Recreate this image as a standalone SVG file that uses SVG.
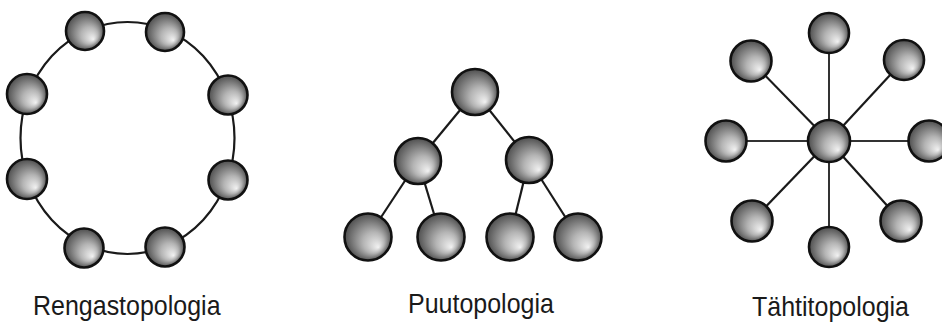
<svg xmlns="http://www.w3.org/2000/svg" width="942" height="325" viewBox="0 0 942 325">
  <defs>
    <radialGradient id="ball" cx="0.5" cy="0.5" r="0.5" fx="0.72" fy="0.72">
      <stop offset="0" stop-color="#f2f2f2"/>
      <stop offset="0.45" stop-color="#b4b4b4"/>
      <stop offset="1" stop-color="#4e4e4e"/>
    </radialGradient>
  </defs>
  <style>
    .node { fill: url(#ball); stroke: #111; stroke-width: 2.6; }
    .link { fill: none; stroke: #1a1a1a; stroke-width: 2.2; }
    .thin { fill: none; stroke: #333; stroke-width: 2; }
    .label { font-family: "Liberation Sans", Arial, sans-serif; font-size: 25px; fill: #1a1a1a; }
  </style>

  <!-- connectors -->
  <g id="connectors">
    <!-- ring -->
    <ellipse class="link" cx="127.5" cy="138" rx="107" ry="116"/>
    <!-- tree -->
    <line class="link" x1="475" y1="92" x2="418" y2="161"/>
    <line class="link" x1="475" y1="92" x2="529" y2="160"/>
    <line class="link" x1="418" y1="161" x2="368" y2="237"/>
    <line class="link" x1="418" y1="161" x2="441" y2="237"/>
    <line class="link" x1="529" y1="160" x2="510" y2="237"/>
    <line class="link" x1="529" y1="160" x2="578" y2="237"/>
    <!-- star -->
    <line class="thin" x1="829" y1="141" x2="829" y2="33"/>
    <line class="thin" x1="829" y1="141" x2="829" y2="247"/>
    <line class="thin" x1="829" y1="141" x2="726" y2="141"/>
    <line class="thin" x1="829" y1="141" x2="929" y2="141"/>
    <line class="link" x1="829" y1="141" x2="751" y2="61"/>
    <line class="link" x1="829" y1="141" x2="904" y2="60"/>
    <line class="link" x1="829" y1="141" x2="752" y2="221"/>
    <line class="link" x1="829" y1="141" x2="901" y2="221"/>
  </g>

  <!-- ring topology -->
  <g id="ring">
    <circle id="ring-1" class="node" cx="85" cy="31" r="19"/>
    <circle id="ring-2" class="node" cx="165" cy="32" r="19"/>
    <circle id="ring-3" class="node" cx="228" cy="95" r="19.5"/>
    <circle id="ring-4" class="node" cx="228" cy="180" r="19.5"/>
    <circle id="ring-5" class="node" cx="165" cy="247" r="19.5"/>
    <circle id="ring-6" class="node" cx="84" cy="248" r="19.5"/>
    <circle id="ring-7" class="node" cx="27" cy="179" r="20"/>
    <circle id="ring-8" class="node" cx="27" cy="94" r="20"/>
  </g>

  <!-- tree topology -->
  <g id="tree">
    <circle id="tree-root" class="node" cx="475" cy="92" r="23"/>
    <circle id="tree-a" class="node" cx="418" cy="161" r="23"/>
    <circle id="tree-b" class="node" cx="529" cy="160" r="23"/>
    <circle id="tree-a1" class="node" cx="368" cy="237" r="23.5"/>
    <circle id="tree-a2" class="node" cx="441" cy="237" r="23.5"/>
    <circle id="tree-b1" class="node" cx="510" cy="237" r="23.5"/>
    <circle id="tree-b2" class="node" cx="578" cy="237" r="23.5"/>
  </g>

  <!-- star topology -->
  <g id="star">
    <circle id="star-hub" class="node" cx="829" cy="141" r="21"/>
    <circle id="star-n" class="node" cx="829" cy="33" r="20"/>
    <circle id="star-ne" class="node" cx="904" cy="60" r="20"/>
    <circle id="star-e" class="node" cx="929" cy="141" r="20.5"/>
    <circle id="star-se" class="node" cx="901" cy="221" r="20.5"/>
    <circle id="star-s" class="node" cx="829" cy="247" r="20"/>
    <circle id="star-sw" class="node" cx="752" cy="221" r="20.5"/>
    <circle id="star-w" class="node" cx="726" cy="141" r="20.5"/>
    <circle id="star-nw" class="node" cx="751" cy="61" r="20.5"/>
  </g>

  <!-- captions -->
  <g id="captions">
    <text class="label" transform="translate(33 315) scale(1 1.1)">Rengastopologia</text>
    <text class="label" transform="translate(408 313) scale(1 1.1)">Puutopologia</text>
    <text class="label" transform="translate(752 316) scale(1 1.1)">Tähtitopologia</text>
  </g>
</svg>
